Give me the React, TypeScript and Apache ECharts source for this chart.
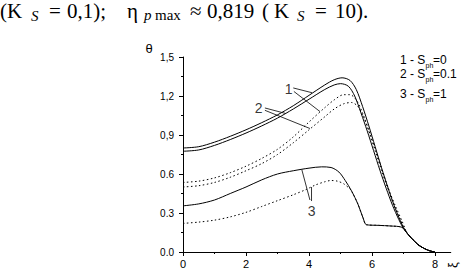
import React, { useEffect, useRef } from 'react';
import * as echarts from 'echarts';

// ---- data ----
const tailXi = [7.1, 7.2, 7.3, 7.4, 7.5, 7.6, 7.7, 7.8, 7.9, 8.0];
const tailTheta = [0.15, 0.12, 0.095, 0.07, 0.05, 0.035, 0.022, 0.012, 0.005, 0.0];

const xi1a = [0, 0.5, 1, 1.5, 2, 2.5, 3, 3.5, 4, 4.5, 4.8, 5.05, 5.3, 5.5, 5.7, 5.9, 6.1, 6.3, 6.5, 6.7, 6.9, 7.0];
const th1a = [0.8, 0.81, 0.845, 0.89, 0.94, 0.995, 1.055, 1.125, 1.205, 1.285, 1.325, 1.34, 1.32, 1.25, 1.12, 0.97, 0.81, 0.65, 0.5, 0.36, 0.24, 0.19];

const xi1b = [0, 0.5, 1, 1.5, 2, 2.5, 3, 3.5, 4, 4.5, 4.8, 5.0, 5.25, 5.45, 5.65, 5.85, 6.05, 6.25, 6.45, 6.65, 6.85, 7.0];
const th1b = [0.775, 0.785, 0.82, 0.865, 0.915, 0.97, 1.03, 1.1, 1.175, 1.25, 1.285, 1.295, 1.275, 1.2, 1.07, 0.93, 0.78, 0.63, 0.49, 0.36, 0.25, 0.18];

const xi2a = [0, 0.5, 1, 1.5, 2, 2.5, 3, 3.5, 4, 4.5, 4.8, 5.1, 5.3, 5.5, 5.7, 5.9, 6.1, 6.3, 6.5, 6.7, 6.9, 7.0];
const th2a = [0.535, 0.545, 0.57, 0.61, 0.66, 0.72, 0.79, 0.885, 1.0, 1.11, 1.17, 1.21, 1.21, 1.17, 1.07, 0.93, 0.78, 0.63, 0.49, 0.36, 0.25, 0.19];

const xi2b = [0, 0.5, 1, 1.5, 2, 2.5, 3, 3.5, 4, 4.5, 4.8, 5.1, 5.35, 5.55, 5.75, 5.95, 6.15, 6.35, 6.55, 6.75, 6.95, 7.05];
const th2b = [0.5, 0.51, 0.535, 0.575, 0.625, 0.68, 0.75, 0.84, 0.94, 1.04, 1.1, 1.14, 1.15, 1.12, 1.03, 0.9, 0.76, 0.61, 0.47, 0.35, 0.24, 0.18];

const xi3a = [0, 0.5, 1, 1.5, 2, 2.5, 3, 3.5, 4, 4.4, 4.7, 4.95, 5.15, 5.35, 5.55, 5.72, 5.82, 6.2, 6.6, 6.95];
const th3a = [0.355, 0.37, 0.4, 0.45, 0.5, 0.555, 0.6, 0.625, 0.645, 0.655, 0.65, 0.615, 0.55, 0.47, 0.37, 0.26, 0.21, 0.205, 0.2, 0.19];

const xi3b = [0, 0.5, 1, 1.5, 2, 2.5, 3, 3.5, 3.9, 4.2, 4.5, 4.7, 4.9, 5.1, 5.3, 5.35, 5.55, 5.72, 5.82, 6.2, 6.6, 6.95];
const th3b = [0.22, 0.23, 0.245, 0.27, 0.305, 0.35, 0.395, 0.44, 0.48, 0.515, 0.54, 0.55, 0.545, 0.525, 0.485, 0.47, 0.37, 0.26, 0.21, 0.205, 0.2, 0.19];

const yTickValues = [0, 0.3, 0.6, 0.9, 1.2, 1.5];
const yTickLabels = ['0.0', '0.3', '0.6', '0,9', '1,2', '1,5'];
const xTickValues = [0, 2, 4, 6, 8];
const xTickLabels = ['0', '2', '4', '6', '8'];

// annotation numbers and their leader lines (data coordinates)
const curveLabels = ['1', '2', '3'];
const curveLabelXi = [3.35, 2.4, 4.08];
const curveLabelTheta = [1.254, 1.108, 0.315];
const leaderFrom = [[3.5, 1.262], [3.52, 1.235], [2.6, 1.108], [2.6, 1.09], [4.03, 0.4], [4.08, 0.392]];
const leaderTo = [[4.1, 1.225], [4.35, 1.08], [3.27, 1.065], [4.03, 0.95], [3.77, 0.635], [4.08, 0.5]];

const legendNums = ['1', '2', '3'];
const legendVals = ['0', '0.1', '1'];

const SANS = '"Liberation Sans", Arial, sans-serif';
const SERIF = '"Liberation Serif", "Times New Roman", serif';

const pairs = (xs: number[], ys: number[]) => xs.map((x, i) => [x, ys[i]]);

export default function App() {
  const ref = useRef<HTMLDivElement>(null);
  useEffect(() => {
    const chart = echarts.init(ref.current!, null, { renderer: 'svg' });
    const gLeft = 183;
    const gTop = 57;
    const gH = 195;
    const ppu = 31.5;
    const xMax = 8.5;

    const curve = (name: string, xs: number[], ys: number[], dotted: boolean) => ({
      name,
      type: 'line',
      xAxisIndex: 0,
      yAxisIndex: 0,
      data: pairs(xs.concat(tailXi), ys.concat(tailTheta)),
      showSymbol: false,
      symbol: 'none',
      smooth: 0.3,
      lineStyle: { color: '#000', width: 1, type: dotted ? [1.5, 2.5] : 'solid' },
      z: 3,
    });

    const leaders = leaderFrom.map((p, i) => ({
      type: 'line',
      xAxisIndex: 0,
      yAxisIndex: 0,
      data: [p, leaderTo[i]],
      showSymbol: false,
      symbol: 'none',
      lineStyle: { color: '#000', width: 0.8 },
      z: 2,
    }));

    const legendRowsY = [60, 74, 94];
    const legendGraphics: any[] = [];
    legendRowsY.forEach((y, i) => {
      legendGraphics.push(
        { type: 'text', x: 400, y, style: { text: legendNums[i] + ' - S', fontFamily: SANS, fontSize: 12, fill: '#000', verticalAlign: 'middle' } },
        { type: 'text', x: 425.5, y: y + 5, style: { text: 'ph', fontFamily: SANS, fontSize: 7, fill: '#000', verticalAlign: 'middle' } },
        { type: 'text', x: 433, y, style: { text: '=' + legendVals[i], fontFamily: SANS, fontSize: 12, fill: '#000', verticalAlign: 'middle' } },
      );
    });

    const hdr = (text: string, x: number, opts: any = {}) => ({
      type: 'text',
      x,
      y: opts.y ?? 10.5,
      style: {
        text,
        fontFamily: SERIF,
        fontSize: opts.size ?? 21,
        fontStyle: opts.italic ? 'italic' : 'normal',
        fill: '#000',
        verticalAlign: 'middle',
      },
    });

    const option: any = {
      animation: false,
      backgroundColor: '#fff',
      grid: [
        { left: gLeft, top: gTop, width: ppu * xMax, height: gH },
        { left: gLeft, top: gTop, width: ppu * 8, height: gH },
      ],
      xAxis: [
        {
          type: 'value', gridIndex: 0, min: 0, max: xMax,
          axisLine: { show: true, onZero: false, lineStyle: { color: '#000', width: 1 } },
          axisTick: { show: false }, axisLabel: { show: false }, splitLine: { show: false },
        },
        {
          type: 'value', gridIndex: 1, min: 0, max: 8, interval: 2,
          axisLine: { show: false, onZero: false },
          axisTick: { show: true, length: 4, lineStyle: { color: '#000' } },
          minorTick: { show: true, splitNumber: 2, length: 2, lineStyle: { color: '#000' } },
          axisLabel: {
            show: true, margin: 6, color: '#000', fontFamily: SANS, fontSize: 11,
            formatter: (v: number) => { const i = xTickValues.indexOf(v); return i >= 0 ? xTickLabels[i] : ''; },
          },
          splitLine: { show: false },
        },
      ],
      yAxis: [
        {
          type: 'value', gridIndex: 0, min: 0, max: 1.5, interval: 0.3,
          axisLine: { show: true, onZero: false, lineStyle: { color: '#000', width: 1 } },
          axisTick: { show: true, length: 4, lineStyle: { color: '#000' } },
          minorTick: { show: true, splitNumber: 2, length: 2, lineStyle: { color: '#000' } },
          axisLabel: {
            show: true, margin: 9, color: '#000', fontFamily: SANS, fontSize: 10,
            formatter: (v: number) => {
              const i = yTickValues.findIndex((t) => Math.abs(t - v) < 1e-6);
              return i >= 0 ? yTickLabels[i] : '';
            },
          },
          splitLine: { show: false },
        },
        { type: 'value', gridIndex: 1, min: 0, max: 1.5, show: false },
      ],
      series: [
        curve('1a', xi1a, th1a, false),
        curve('1b', xi1b, th1b, false),
        curve('2a', xi2a, th2a, true),
        curve('2b', xi2b, th2b, true),
        curve('3a', xi3a, th3a, false),
        curve('3b', xi3b, th3b, true),
        ...leaders,
        {
          type: 'scatter',
          xAxisIndex: 0,
          yAxisIndex: 0,
          data: pairs(curveLabelXi, curveLabelTheta),
          symbolSize: 1,
          itemStyle: { color: 'rgba(0,0,0,0)' },
          label: {
            show: true, position: 'inside', color: '#000', fontFamily: SANS, fontSize: 14,
            formatter: (p: any) => curveLabels[p.dataIndex],
          },
          z: 4,
        },
      ],
      graphic: [
        // header line of the page
        hdr('(', 0),
        hdr('K', 7),
        hdr('S', 31, { italic: true, size: 15, y: 15.5 }),
        hdr('=', 49),
        hdr('0,1);', 67),
        hdr('η', 127),
        hdr('p', 144, { italic: true, size: 15, y: 14.5 }),
        hdr('max', 155, { size: 15, y: 14.5 }),
        hdr('≈', 190),
        hdr('0,819', 207),
        hdr('(', 262),
        hdr('K', 274),
        hdr('S', 297, { italic: true, size: 15, y: 15.5 }),
        hdr('=', 315),
        hdr('10).', 335),
        // axis names
        { type: 'text', x: 149, y: 48, style: { text: 'θ', fontFamily: SANS, fontSize: 13, fill: '#000', align: 'center', verticalAlign: 'middle' } },
        { type: 'text', x: 452, y: 265, rotation: Math.PI / 2, style: { text: 'ξ', fontFamily: SANS, fontSize: 13, fill: '#000', align: 'center', verticalAlign: 'middle' } },
        ...legendGraphics,
      ],
    };
    chart.setOption(option);
    return () => chart.dispose();
  }, []);
  return <div ref={ref} style={{ position: 'fixed', left: 0, top: 0, width: 461, height: 278, background: '#fff' }} />;
}
